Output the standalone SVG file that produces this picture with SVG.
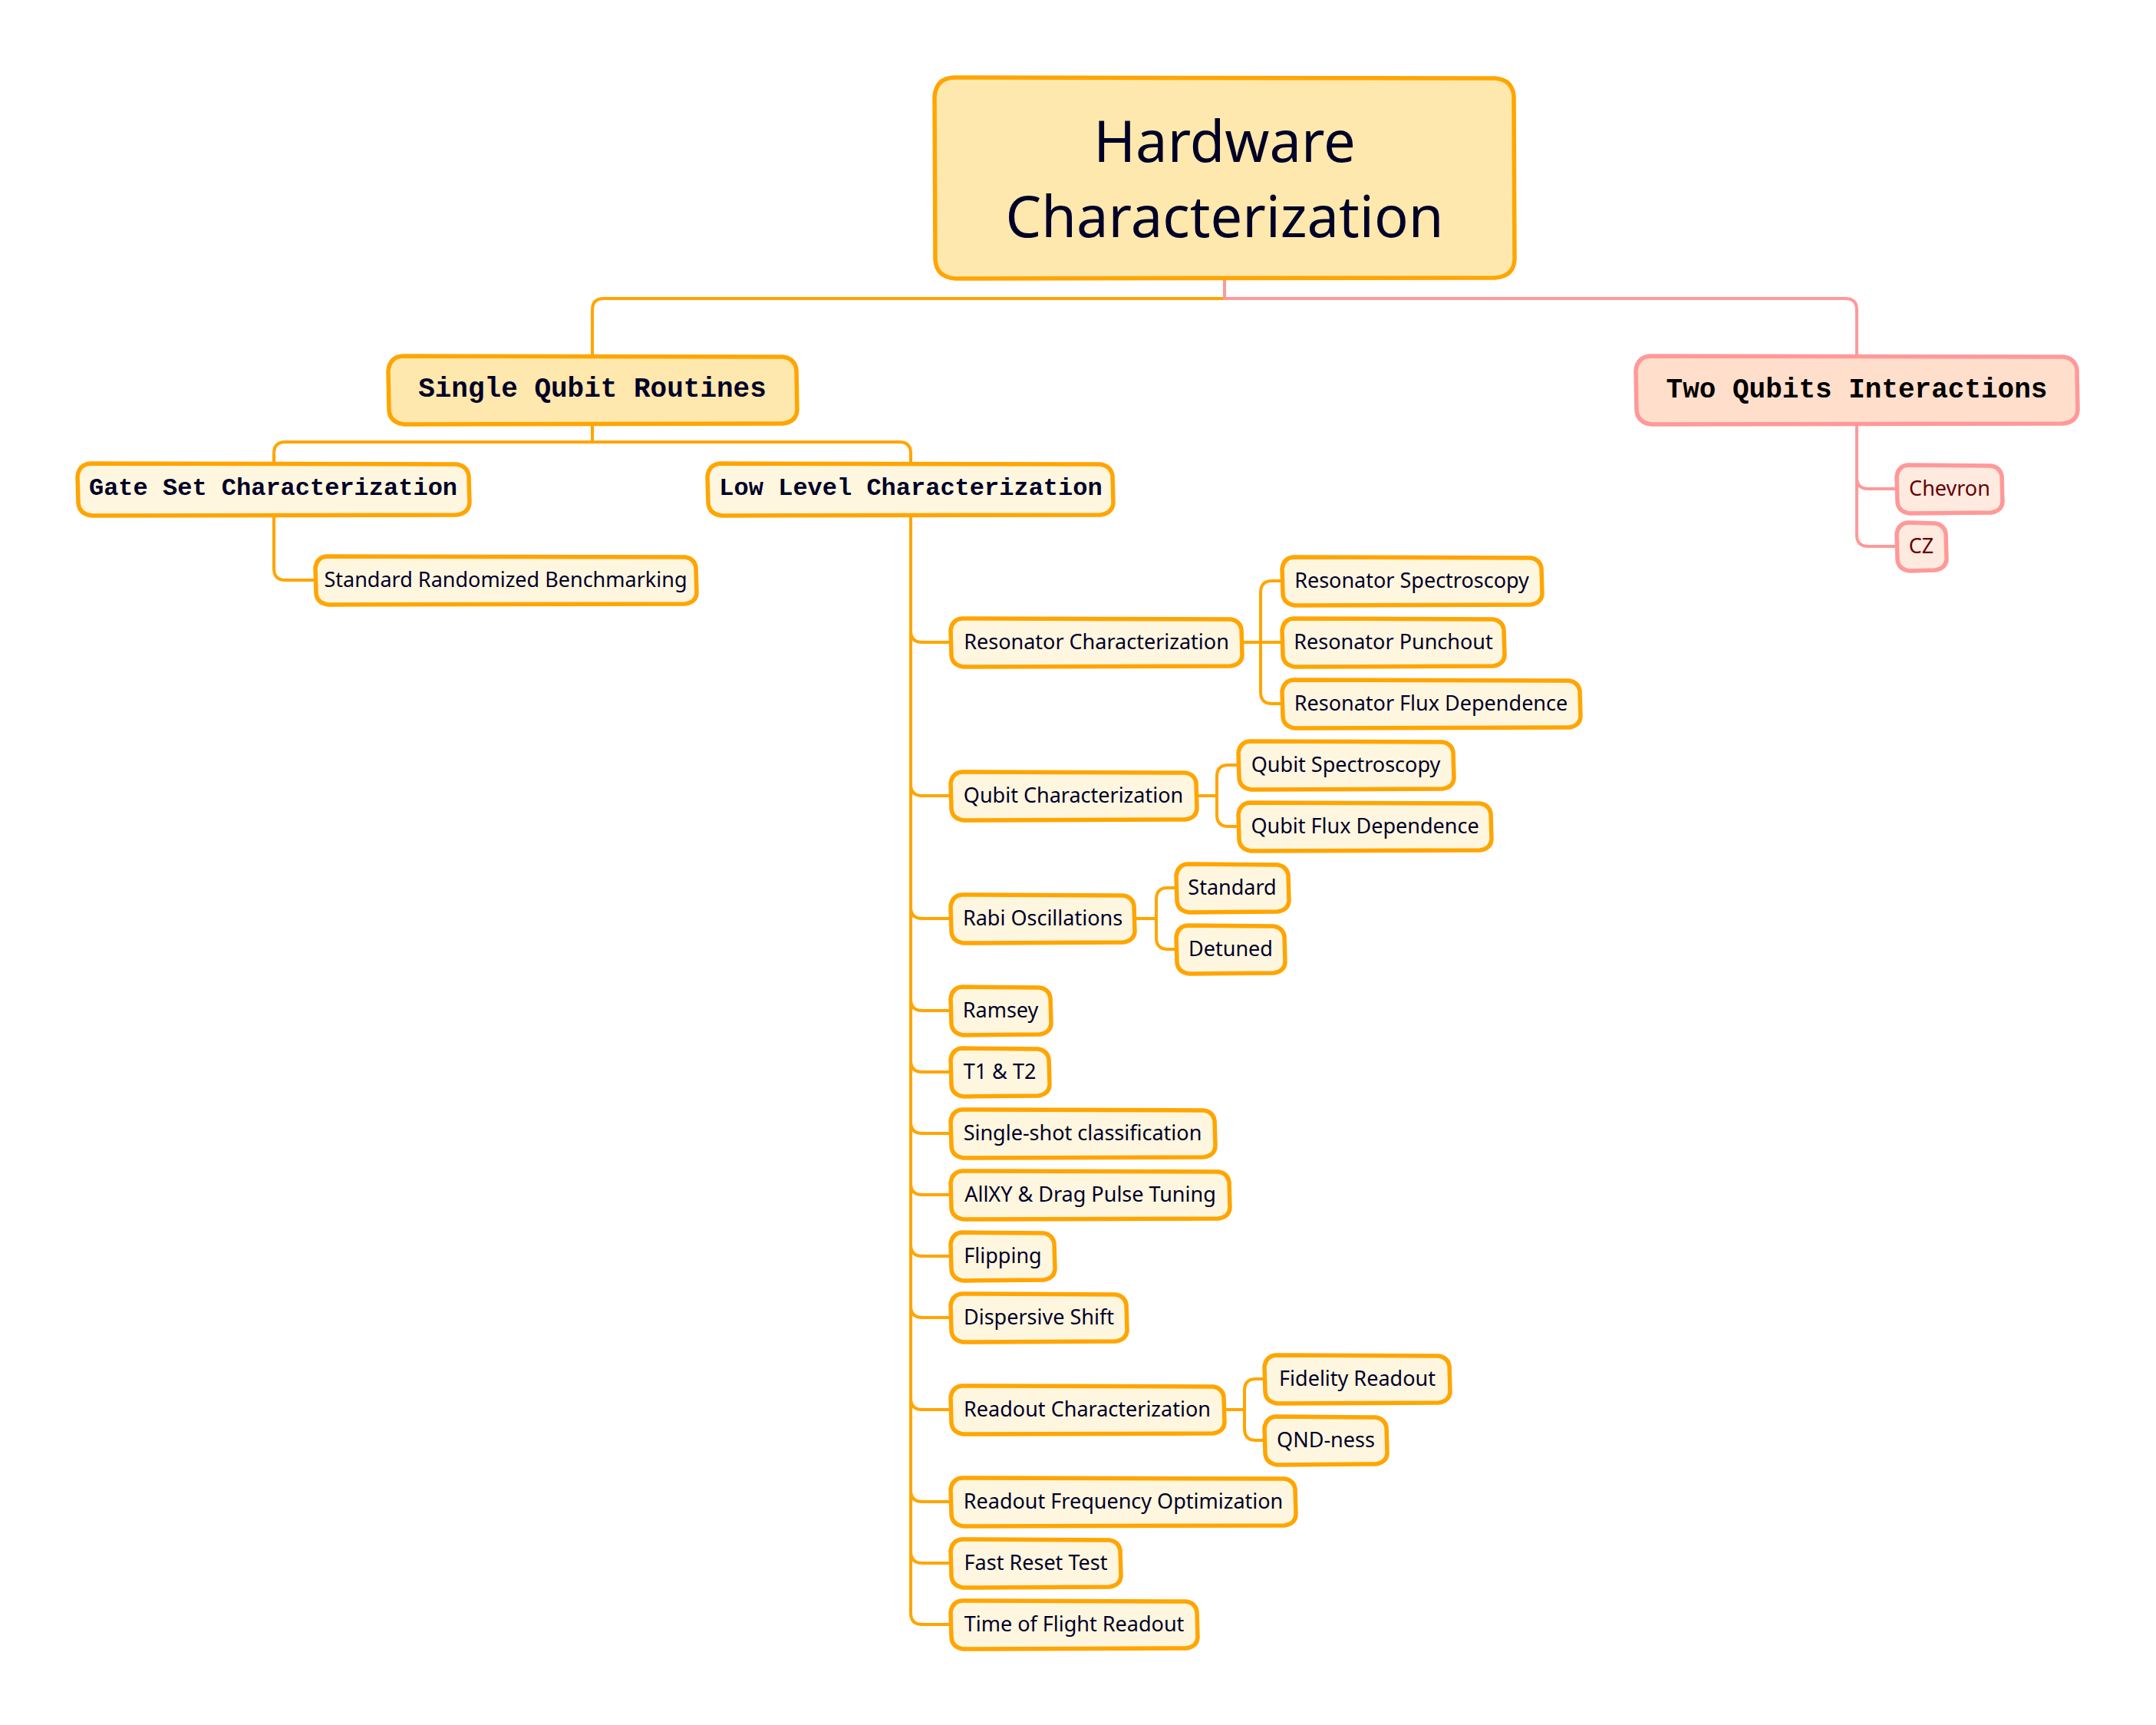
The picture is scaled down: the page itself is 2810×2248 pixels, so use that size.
<svg xmlns="http://www.w3.org/2000/svg" width="2810" height="2248" viewBox="0 0 2810 2248">
<style>
.bg{fill:#ffffff}
.c{fill:none;stroke:#FFA500;stroke-width:4;stroke-linejoin:round}
.cp{fill:none;stroke:#FF9999;stroke-width:4;stroke-linejoin:round}
.n1{fill:#FFE8AD;stroke:#FFA500;stroke-width:5.5;stroke-linejoin:round}
.n2{fill:#FFF6DF;stroke:#FFA500;stroke-width:5.5;stroke-linejoin:round}
.p1{fill:#FFDFCC;stroke:#FF9999;stroke-width:5.5;stroke-linejoin:round}
.p2{fill:#FFEAE0;stroke:#FF9999;stroke-width:5.5;stroke-linejoin:round}
.t0{font-family:"Noto Sans","Open Sans",sans-serif;font-size:74px;fill:#000028;text-anchor:middle}
.t1{font-family:"Liberation Mono","Courier New",monospace;font-weight:bold;font-size:36px;fill:#000028;text-anchor:middle}
.t1p{font-family:"Liberation Mono","Courier New",monospace;font-weight:bold;font-size:36px;fill:#000000;text-anchor:middle}
.t2{font-family:"Liberation Mono","Courier New",monospace;font-weight:bold;font-size:32px;fill:#000028;text-anchor:middle}
.t3{font-family:"Noto Sans","Open Sans",sans-serif;font-size:27px;fill:#000028;text-anchor:middle}
.t3p{font-family:"Noto Sans","Open Sans",sans-serif;font-size:27px;fill:#660000;text-anchor:middle}
</style>
<rect class="bg" x="0" y="0" width="2810" height="2248"/>
<g id="connectors">
<path class="c" d="M1596,362 V389 H787 Q772,389 772,404 V464"/>
<path class="cp" d="M1596,362 V389 H2405 Q2420,389 2420,404 V464"/>
<path class="c" d="M772,552 V576 H372 Q357,576 357,591 V604"/>
<path class="c" d="M772,552 V576 H1172 Q1187,576 1187,591 V604"/>
<path class="c" d="M357,671 V741 Q357,756 372,756 H412"/>
<path class="c" d="M1187,671 V822 Q1187,837 1202,837 H1240"/>
<path class="c" d="M1187,671 V1022 Q1187,1037 1202,1037 H1240"/>
<path class="c" d="M1187,671 V1182 Q1187,1197 1202,1197 H1240"/>
<path class="c" d="M1187,671 V1302 Q1187,1317 1202,1317 H1240"/>
<path class="c" d="M1187,671 V1382 Q1187,1397 1202,1397 H1240"/>
<path class="c" d="M1187,671 V1462 Q1187,1477 1202,1477 H1240"/>
<path class="c" d="M1187,671 V1542 Q1187,1557 1202,1557 H1240"/>
<path class="c" d="M1187,671 V1622 Q1187,1637 1202,1637 H1240"/>
<path class="c" d="M1187,671 V1702 Q1187,1717 1202,1717 H1240"/>
<path class="c" d="M1187,671 V1822 Q1187,1837 1202,1837 H1240"/>
<path class="c" d="M1187,671 V1942 Q1187,1957 1202,1957 H1240"/>
<path class="c" d="M1187,671 V2022 Q1187,2037 1202,2037 H1240"/>
<path class="c" d="M1187,671 V2102 Q1187,2117 1202,2117 H1240"/>
<path class="c" d="M1618,837 H1672"/>
<path class="c" d="M1643,837 V772 Q1643,757 1658,757 H1672"/>
<path class="c" d="M1643,837 V902 Q1643,917 1658,917 H1672"/>
<path class="c" d="M1559,1037 H1586 V1012 Q1586,997 1601,997 H1615"/>
<path class="c" d="M1586,1037 V1062 Q1586,1077 1601,1077 H1615"/>
<path class="c" d="M1478,1197 H1507 V1172 Q1507,1157 1522,1157 H1534"/>
<path class="c" d="M1507,1197 V1222 Q1507,1237 1522,1237 H1534"/>
<path class="c" d="M1595,1837 H1622 V1812 Q1622,1797 1637,1797 H1649"/>
<path class="c" d="M1622,1837 V1862 Q1622,1877 1637,1877 H1649"/>
<path class="cp" d="M2420,552 V622 Q2420,637 2435,637 H2473"/>
<path class="cp" d="M2420,552 V697 Q2420,712 2435,712 H2473"/>
</g>
<g id="root" transform="translate(1219,101)">
<path class="n1" d="M24,0 L730,1 Q752,3 754,24 L755,237 Q754,259 730,261 L26,262 Q1,260 0,237 L-1,25 Q1,1 24,0 Z"/>
<text class="t0" x="377" y="110">Hardware</text>
<text class="t0" x="377" y="208">Characterization</text>
</g>
<g id="single-qubit" transform="translate(507,464)">
<path class="n1" d="M18,0 L513,1 Q529,3 531,18 L532,70 Q531,86 513,88 L20,89 Q1,87 0,70 L-1,19 Q1,1 18,0 Z"/>
<text class="t1" x="265" y="53">Single Qubit Routines</text>
</g>
<g id="two-qubits" transform="translate(2133,464)">
<path class="p1" d="M18,0 L556,1 Q572,3 574,18 L575,70 Q574,86 556,88 L20,89 Q1,87 0,70 L-1,19 Q1,1 18,0 Z"/>
<text class="t1p" x="287" y="54">Two Qubits Interactions</text>
</g>
<g id="gate-set" transform="translate(102,604)">
<path class="n2" d="M16,0 L493,1 Q507,3 509,16 L510,51 Q509,65 493,67 L18,68 Q1,66 0,51 L-1,17 Q1,1 16,0 Z"/>
<text class="t2" x="254" y="41">Gate Set Characterization</text>
</g>
<g id="low-level" transform="translate(923,604)">
<path class="n2" d="M16,0 L511,1 Q525,3 527,16 L528,51 Q527,65 511,67 L18,68 Q1,66 0,51 L-1,17 Q1,1 16,0 Z"/>
<text class="t2" x="264" y="41">Low Level Characterization</text>
</g>
<g id="std-rb" transform="translate(412,725)">
<path class="n2" d="M14,0 L481,1 Q493,3 495,14 L496,48 Q495,60 481,62 L16,63 Q1,61 0,48 L-1,15 Q1,1 14,0 Z"/>
<text class="t3" x="247" y="40">Standard Randomized Benchmarking</text>
</g>
<g id="chevron" transform="translate(2473,606)">
<path class="p2" d="M14,0 L122,1 Q134,3 136,14 L137,48 Q136,60 122,62 L16,63 Q1,61 0,48 L-1,15 Q1,1 14,0 Z"/>
<text class="t3p" x="68" y="40">Chevron</text>
</g>
<g id="cz" transform="translate(2473,681)">
<path class="p2" d="M14,0 L49,1 Q61,3 63,14 L64,48 Q63,60 49,62 L16,63 Q1,61 0,48 L-1,15 Q1,1 14,0 Z"/>
<text class="t3p" x="31" y="40">CZ</text>
</g>
<g id="res-char" transform="translate(1240,806)">
<path class="n2" d="M14,0 L364,1 Q376,3 378,14 L379,48 Q378,60 364,62 L16,63 Q1,61 0,48 L-1,15 Q1,1 14,0 Z"/>
<text class="t3" x="189" y="40">Resonator Characterization</text>
</g>
<g id="res-spec" transform="translate(1672,726)">
<path class="n2" d="M14,0 L323,1 Q335,3 337,14 L338,48 Q337,60 323,62 L16,63 Q1,61 0,48 L-1,15 Q1,1 14,0 Z"/>
<text class="t3" x="168" y="40">Resonator Spectroscopy</text>
</g>
<g id="res-punch" transform="translate(1672,806)">
<path class="n2" d="M14,0 L274,1 Q286,3 288,14 L289,48 Q288,60 274,62 L16,63 Q1,61 0,48 L-1,15 Q1,1 14,0 Z"/>
<text class="t3" x="144" y="40">Resonator Punchout</text>
</g>
<g id="res-flux" transform="translate(1672,886)">
<path class="n2" d="M14,0 L373,1 Q385,3 387,14 L388,48 Q387,60 373,62 L16,63 Q1,61 0,48 L-1,15 Q1,1 14,0 Z"/>
<text class="t3" x="193" y="40">Resonator Flux Dependence</text>
</g>
<g id="qubit-char" transform="translate(1240,1006)">
<path class="n2" d="M14,0 L305,1 Q317,3 319,14 L320,48 Q319,60 305,62 L16,63 Q1,61 0,48 L-1,15 Q1,1 14,0 Z"/>
<text class="t3" x="159" y="40">Qubit Characterization</text>
</g>
<g id="qubit-spec" transform="translate(1615,966)">
<path class="n2" d="M14,0 L265,1 Q277,3 279,14 L280,48 Q279,60 265,62 L16,63 Q1,61 0,48 L-1,15 Q1,1 14,0 Z"/>
<text class="t3" x="139" y="40">Qubit Spectroscopy</text>
</g>
<g id="qubit-flux" transform="translate(1615,1046)">
<path class="n2" d="M14,0 L314,1 Q326,3 328,14 L329,48 Q328,60 314,62 L16,63 Q1,61 0,48 L-1,15 Q1,1 14,0 Z"/>
<text class="t3" x="164" y="40">Qubit Flux Dependence</text>
</g>
<g id="rabi" transform="translate(1240,1166)">
<path class="n2" d="M14,0 L224,1 Q236,3 238,14 L239,48 Q238,60 224,62 L16,63 Q1,61 0,48 L-1,15 Q1,1 14,0 Z"/>
<text class="t3" x="119" y="40">Rabi Oscillations</text>
</g>
<g id="rabi-standard" transform="translate(1534,1126)">
<path class="n2" d="M14,0 L131,1 Q143,3 145,14 L146,48 Q145,60 131,62 L16,63 Q1,61 0,48 L-1,15 Q1,1 14,0 Z"/>
<text class="t3" x="72" y="40">Standard</text>
</g>
<g id="rabi-detuned" transform="translate(1534,1206)">
<path class="n2" d="M14,0 L126,1 Q138,3 140,14 L141,48 Q140,60 126,62 L16,63 Q1,61 0,48 L-1,15 Q1,1 14,0 Z"/>
<text class="t3" x="70" y="40">Detuned</text>
</g>
<g id="ramsey" transform="translate(1240,1286)">
<path class="n2" d="M14,0 L115,1 Q127,3 129,14 L130,48 Q129,60 115,62 L16,63 Q1,61 0,48 L-1,15 Q1,1 14,0 Z"/>
<text class="t3" x="64" y="40">Ramsey</text>
</g>
<g id="t1t2" transform="translate(1240,1366)">
<path class="n2" d="M14,0 L113,1 Q125,3 127,14 L128,48 Q127,60 113,62 L16,63 Q1,61 0,48 L-1,15 Q1,1 14,0 Z"/>
<text class="t3" x="63" y="40">T1 &amp; T2</text>
</g>
<g id="single-shot" transform="translate(1240,1446)">
<path class="n2" d="M14,0 L329,1 Q341,3 343,14 L344,48 Q343,60 329,62 L16,63 Q1,61 0,48 L-1,15 Q1,1 14,0 Z"/>
<text class="t3" x="171" y="40">Single-shot classification</text>
</g>
<g id="allxy" transform="translate(1240,1526)">
<path class="n2" d="M14,0 L348,1 Q360,3 362,14 L363,48 Q362,60 348,62 L16,63 Q1,61 0,48 L-1,15 Q1,1 14,0 Z"/>
<text class="t3" x="181" y="40">AllXY &amp; Drag Pulse Tuning</text>
</g>
<g id="flipping" transform="translate(1240,1606)">
<path class="n2" d="M14,0 L120,1 Q132,3 134,14 L135,48 Q134,60 120,62 L16,63 Q1,61 0,48 L-1,15 Q1,1 14,0 Z"/>
<text class="t3" x="67" y="40">Flipping</text>
</g>
<g id="dispersive" transform="translate(1240,1686)">
<path class="n2" d="M14,0 L214,1 Q226,3 228,14 L229,48 Q228,60 214,62 L16,63 Q1,61 0,48 L-1,15 Q1,1 14,0 Z"/>
<text class="t3" x="114" y="40">Dispersive Shift</text>
</g>
<g id="readout-char" transform="translate(1240,1806)">
<path class="n2" d="M14,0 L341,1 Q353,3 355,14 L356,48 Q355,60 341,62 L16,63 Q1,61 0,48 L-1,15 Q1,1 14,0 Z"/>
<text class="t3" x="177" y="40">Readout Characterization</text>
</g>
<g id="fidelity" transform="translate(1649,1766)">
<path class="n2" d="M14,0 L226,1 Q238,3 240,14 L241,48 Q240,60 226,62 L16,63 Q1,61 0,48 L-1,15 Q1,1 14,0 Z"/>
<text class="t3" x="120" y="40">Fidelity Readout</text>
</g>
<g id="qnd" transform="translate(1649,1846)">
<path class="n2" d="M14,0 L144,1 Q156,3 158,14 L159,48 Q158,60 144,62 L16,63 Q1,61 0,48 L-1,15 Q1,1 14,0 Z"/>
<text class="t3" x="79" y="40">QND-ness</text>
</g>
<g id="readout-freq" transform="translate(1240,1926)">
<path class="n2" d="M14,0 L434,1 Q446,3 448,14 L449,48 Q448,60 434,62 L16,63 Q1,61 0,48 L-1,15 Q1,1 14,0 Z"/>
<text class="t3" x="224" y="40">Readout Frequency Optimization</text>
</g>
<g id="fast-reset" transform="translate(1240,2006)">
<path class="n2" d="M14,0 L206,1 Q218,3 220,14 L221,48 Q220,60 206,62 L16,63 Q1,61 0,48 L-1,15 Q1,1 14,0 Z"/>
<text class="t3" x="110" y="40">Fast Reset Test</text>
</g>
<g id="tof" transform="translate(1240,2086)">
<path class="n2" d="M14,0 L306,1 Q318,3 320,14 L321,48 Q320,60 306,62 L16,63 Q1,61 0,48 L-1,15 Q1,1 14,0 Z"/>
<text class="t3" x="160" y="40">Time of Flight Readout</text>
</g>
</svg>
